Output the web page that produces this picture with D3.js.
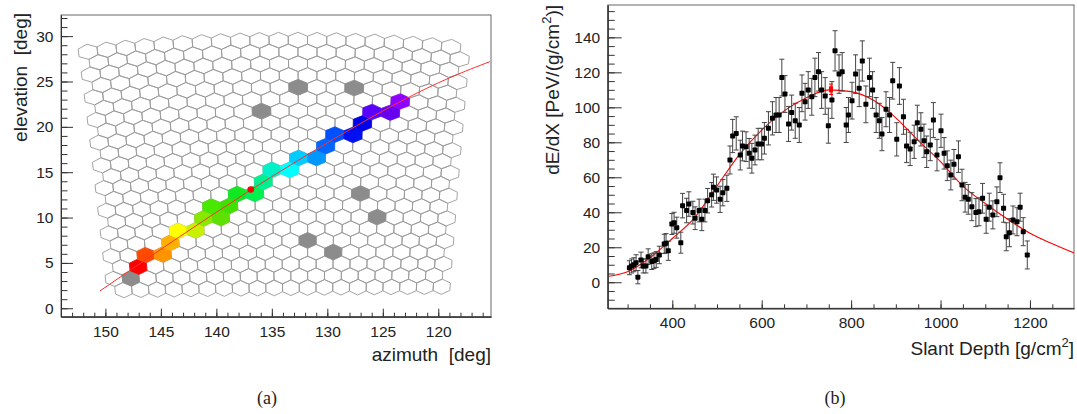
<!DOCTYPE html>
<html><head><meta charset="utf-8">
<script src="https://cdn.jsdelivr.net/npm/d3@7"></script>
<style>
body{margin:0;background:#fff}
svg{display:block}
text{font-family:"Liberation Sans",Arial,Helvetica,sans-serif;fill:#222}
</style>
</head><body>
<svg id="c" width="1077" height="414"></svg>
<script>
// ---------------- DATA: panel (a) camera event ----------------
const azTicks = [150,145,140,135,130,125,120];
const elTicks = [0,5,10,15,20,25,30];
// triggered pixels: row, column, colour (time order)
const hitRow   = [2,3,3,4,5,5,6,6,7,7,8,8,9,10,10,11,11,12,13,13,14,15,15,16];
const hitCol   = [1,2,3,3,4,5,5,6,6,7,7,8,9,9,10,11,12,12,13,14,14,15,16,16];
const hitColor = ["#ff0000","#ff4a00","#ff9400","#ffb000","#ffff00","#c8f000","#88e800","#5ee000",
                  "#48e800","#40e000","#10e820","#00f050","#00f090","#00f0c8","#00ffff","#00ccff",
                  "#0098ff","#0066ff","#0050ff","#0010f0","#0000e8","#5a00ff","#6800f0","#9000ff"];
// noise pixels
const noiseRow = [1,15,17,17,8,6,4,3];
const noiseCol = [1,9,11,14,14,15,11,13];
// fitted shower-detector plane track
const trackAz = [150.5,136.9,123.6,115.35];
const trackEl = [1.9,13.04,22.67,27.19];
const coreAz = [136.9];
const coreEl = [13.1];

// ---------------- DATA: panel (b) longitudinal profile ----------------
const depthTicks = [400,600,800,1000,1200];
const dedxTicks = [0,20,40,60,80,100,120,140];
const depth = [304,309,314,319,323,330,335,341,346,354,
  359,364,371,382,386,391,399,404,410,419,
  423,432,437,446,451,460,466,473,479,488,
  492,499,507,513,522,529,535,543,552,557,
  565,572,578,585,592,600,606,615,624,632,
  639,645,652,660,667,675,684,690,697,704,
  712,719,727,734,742,749,757,764,773,780,
  789,794,802,810,818,825,833,841,848,856,
  863,869,878,886,893,902,908,917,924,932,
  941,948,956,963,969,977,984,992,1001,1008,
  1015,1023,1030,1040,1048,1055,1062,1070,1079,1086,
  1094,1102,1109,1117,1126,1133,1141,1147,1154,1162,
  1171,1178,1185,1194];
const dedx = [8.3,9.3,10,11.2,2.9,12.7,9.3,9.3,14.6,11.8,
  12.3,13,15.6,21.9,22.3,18,33.3,34,31.2,22.6,
  43.8,41,44.7,39.8,36.6,41,36,41,46.6,50,
  54.3,52.7,47.4,51.2,53.7,69.9,83.6,85.1,72.7,77.9,
  77.5,73.7,70.9,75.6,79,79,82.3,88,93.7,95.6,
  95.6,117,107.6,90.5,97,92.3,89.9,108,103.2,109.9,
  106,117.1,120.3,109.9,106.5,89.5,104.2,132.3,119,120.3,
  89.9,95.6,103.8,119,110.9,126.5,101.7,117.1,109.9,95.6,
  92.3,84.7,98.9,95.6,115.2,81.7,112.2,94.6,77.9,76.2,
  80.3,91.2,87.4,80.9,74.6,78.5,92.7,72.7,86.6,73.7,
  66.6,61.3,67.4,71.8,55.6,48.6,47.4,43.2,39.8,40.3,
  48,36,42.9,38.5,46,59.8,42.3,26,28.3,35.6,
  34.6,42.9,28.9,15.6];
const dedxErr = [4,4,4,4.5,3.8,4.5,4,4,4.5,4.5,
  4.5,4.5,5,5.5,5.5,5.5,6,6,6,6,
  7,7,7,6.5,6.5,6.5,6.5,6.5,7,7,
  7.5,7.5,7.5,7.5,7.5,8,9.5,9.5,8.5,8.5,
  8.5,8.5,8.5,8.5,9,9,9,9.5,9.5,10,
  10,10.5,10.5,10,10,10,10,10.5,10.5,10.5,
  10.5,11,11,10.5,10.5,10,10.5,11.5,11,11,
  10,10,10.5,11,10.5,11.5,10.5,11,10.5,10,
  10,9.5,10,10,10.5,9.5,10.5,10,9.5,9.5,
  9.5,10,9.5,9.5,9,9,10,9,9.5,9,
  8.5,8.5,8.5,9,9,8.5,8.5,8,8,8,
  8.5,8,8,8,8.5,8.5,8,8,8,8,
  8,8,8,8];
// Gaisser-Hillas fit curve
const fitDepth = [255,300,350,400,450,500,550,600,650,700,750,800,850,900,950,1000,1050,1100,1150,1200,1250,1300];
const fitDedx  = [3.3,6,14,25,37,55,73,87,98,105.5,110,109,104,94,81,69,55,45,36,28,22,16.6];
const xmaxDepth = [755];
const xmaxDedx = [110.3];
const xmaxErr = [3];

// ---------------- camera geometry ----------------
const CAM_ROWS = 22, CAM_COLS = 20;
const PITCH_A = 1.55, PITCH_B = 1.3;
const AZ0 = 134.6, TILT = 15.9, ROLL = 0.8;
const D = Math.PI/180;
function camToAzEl(a, b){
  let x = Math.tan(a*D), y = 1, z = Math.tan(b*D);
  const cp = Math.cos(ROLL*D), sp = Math.sin(ROLL*D);
  const x1 = x*cp - z*sp, z1 = x*sp + z*cp;
  const ct = Math.cos(TILT*D), st = Math.sin(TILT*D);
  const y2 = y*ct - z1*st, z2 = y*st + z1*ct;
  const n = Math.hypot(x1, y2, z2);
  return [AZ0 - Math.atan2(x1, y2)/D, Math.asin(z2/n)/D];
}
function pixCenter(i, j){
  return [((j - (CAM_COLS-1)/2) + (i%2===0 ? 0.25 : -0.25))*PITCH_A, (i - (CAM_ROWS-1)/2)*PITCH_B];
}
const HR = PITCH_B/1.5, HW = PITCH_A/2;
const hexOff = [[0,HR],[HW,HR/2],[HW,-HR/2],[0,-HR],[-HW,-HR/2],[-HW,HR/2]];

// ---------------- drawing ----------------
const svg = d3.select('#c');
svg.append('rect').attr('width',1077).attr('height',414).attr('fill','#fff');
const fmt = d3.format('d');

// ===== panel (a) =====
const ax = d3.scaleLinear().domain([154,115.25]).range([61,491]);
const ay = d3.scaleLinear().domain([-0.93,32.33]).range([316.7,15]);
const ga = svg.append('g');

function hexPath(i,j){
  const [a,b] = pixCenter(i,j);
  const pts = hexOff.map(([da,db]) => { const [az,el] = camToAzEl(a+da, b+db); return [ax(az), ay(el)]; });
  return 'M' + pts.map(p => p[0].toFixed(2)+','+p[1].toFixed(2)).join('L') + 'Z';
}
const fillMap = new Map();
noiseRow.forEach((r,k) => fillMap.set(r+'_'+noiseCol[k], '#8c8c8c'));
hitRow.forEach((r,k) => fillMap.set(r+'_'+hitCol[k], hitColor[k]));
const cells = [];
for (let i=0;i<CAM_ROWS;i++) for (let j=0;j<CAM_COLS;j++) cells.push({i,j,f:fillMap.get(i+'_'+j)});
ga.append('g').selectAll('path').data(cells.filter(c=>!c.f)).join('path')
  .attr('d', c => hexPath(c.i,c.j)).attr('fill','none').attr('stroke','#9a9a9a').attr('stroke-width',0.9);
ga.append('g').selectAll('path').data(cells.filter(c=>c.f)).join('path')
  .attr('d', c => hexPath(c.i,c.j)).attr('fill', c=>c.f).attr('stroke', c=>c.f).attr('stroke-width',0.6);

ga.append('path').datum(trackAz.map((a,k)=>[a,trackEl[k]]))
  .attr('d', d3.line().x(d=>ax(d[0])).y(d=>ay(d[1])).curve(d3.curveNatural))
  .attr('fill','none').attr('stroke','#ff3030').attr('stroke-width',1);
ga.selectAll('circle.core').data(coreAz).join('circle').attr('class','core')
  .attr('cx',(d)=>ax(d)).attr('cy',(d,k)=>ay(coreEl[k])).attr('r',3.3).attr('fill','#ff0000');

// frame
ga.append('rect').attr('x',61).attr('y',15).attr('width',430).attr('height',301.7)
  .attr('fill','none').attr('stroke','#666').attr('stroke-width',1);

function styleAxis(g){ g.attr('color','#333'); g.selectAll('text').attr('font-size',15.5).attr('fill','#222'); g.select('.domain').attr('stroke','#333'); }
const minorAz = d3.range(116,154,1);
ga.append('g').attr('transform','translate(0,316.7)')
  .call(d3.axisBottom(ax).tickValues(minorAz).tickSize(-4).tickSizeOuter(0).tickFormat(''))
  .call(styleAxis);
ga.append('g').attr('transform','translate(0,316.7)')
  .call(d3.axisBottom(ax).tickValues(azTicks).tickSize(-8).tickSizeOuter(0).tickPadding(9).tickFormat(fmt))
  .call(styleAxis);
const minorEl = d3.range(0,33,1);
ga.append('g').attr('transform','translate(61,0)')
  .call(d3.axisLeft(ay).tickValues(minorEl).tickSize(-6.5).tickSizeOuter(0).tickFormat(''))
  .call(styleAxis);
ga.append('g').attr('transform','translate(61,0)')
  .call(d3.axisLeft(ay).tickValues(elTicks).tickSize(-12).tickSizeOuter(0).tickPadding(7.5).tickFormat(fmt))
  .call(styleAxis);

ga.append('text').attr('x',491).attr('y',361).attr('text-anchor','end').attr('font-size',19)
  .attr('xml:space','preserve').text('azimuth  [deg]');
ga.append('text').attr('transform','translate(27,13) rotate(-90)').attr('text-anchor','end').attr('font-size',19)
  .attr('xml:space','preserve').text('elevation  [deg]');

// ===== panel (b) =====
const bx = d3.scaleLinear().domain([255.5,1298.5]).range([607.7,1074]);
const by = d3.scaleLinear().domain([-14.9,158.5]).range([308.3,5]);
const gb = svg.append('g');
gb.append('clipPath').attr('id','clipb').append('rect').attr('x',607.7).attr('y',5).attr('width',466.3).attr('height',303.3);

gb.append('path').datum(fitDepth.map((x,k)=>[x,fitDedx[k]]))
  .attr('clip-path','url(#clipb)')
  .attr('d', d3.line().x(d=>bx(d[0])).y(d=>by(d[1])).curve(d3.curveMonotoneX))
  .attr('fill','none').attr('stroke','#ff0000').attr('stroke-width',1.1);

const pts = depth.map((x,k)=>({x, v:dedx[k], e:dedxErr[k]}));
const eb = gb.append('g').attr('stroke','#444').attr('stroke-width',1);
eb.selectAll('line.v').data(pts).join('line').attr('class','v')
  .attr('x1',d=>bx(d.x)).attr('x2',d=>bx(d.x)).attr('y1',d=>by(d.v-d.e)).attr('y2',d=>by(d.v+d.e));
eb.selectAll('line.t').data(pts).join('line').attr('class','t')
  .attr('x1',d=>bx(d.x)-2.5).attr('x2',d=>bx(d.x)+2.5).attr('y1',d=>by(d.v+d.e)).attr('y2',d=>by(d.v+d.e));
eb.selectAll('line.b').data(pts).join('line').attr('class','b')
  .attr('x1',d=>bx(d.x)-2.5).attr('x2',d=>bx(d.x)+2.5).attr('y1',d=>by(d.v-d.e)).attr('y2',d=>by(d.v-d.e));
gb.append('g').selectAll('rect').data(pts).join('rect')
  .attr('x',d=>bx(d.x)-2.5).attr('y',d=>by(d.v)-2.5).attr('width',5).attr('height',5).attr('rx',0.8).attr('fill','#000');

// Xmax marker
const xm = gb.append('g').attr('stroke','#ff0000').attr('fill','#ff0000');
xmaxDepth.forEach((x,k)=>{
  xm.append('line').attr('x1',bx(x)).attr('x2',bx(x)).attr('y1',by(xmaxDedx[k]-xmaxErr[k])).attr('y2',by(xmaxDedx[k]+xmaxErr[k])).attr('stroke-width',1);
  xm.append('line').attr('x1',bx(x)-2).attr('x2',bx(x)+2).attr('y1',by(xmaxDedx[k]+xmaxErr[k])).attr('y2',by(xmaxDedx[k]+xmaxErr[k]));
  xm.append('line').attr('x1',bx(x)-2).attr('x2',bx(x)+2).attr('y1',by(xmaxDedx[k]-xmaxErr[k])).attr('y2',by(xmaxDedx[k]-xmaxErr[k]));
  xm.append('rect').attr('x',bx(x)-2).attr('y',by(xmaxDedx[k])-3).attr('width',4).attr('height',6).attr('stroke','none');
});

gb.append('rect').attr('x',607.7).attr('y',5).attr('width',466.3).attr('height',303.3)
  .attr('fill','none').attr('stroke','#666').attr('stroke-width',1);
const minorDepth = d3.range(300,1300,50);
gb.append('g').attr('transform','translate(0,308.3)')
  .call(d3.axisBottom(bx).tickValues(minorDepth).tickSize(-4).tickSizeOuter(0).tickFormat(''))
  .call(styleAxis);
gb.append('g').attr('transform','translate(0,308.3)')
  .call(d3.axisBottom(bx).tickValues(depthTicks).tickSize(-8).tickSizeOuter(0).tickPadding(9).tickFormat(fmt))
  .call(styleAxis);
const minorDedx = d3.range(-10,160,5);
gb.append('g').attr('transform','translate(607.7,0)')
  .call(d3.axisLeft(by).tickValues(minorDedx).tickSize(-7).tickSizeOuter(0).tickFormat(''))
  .call(styleAxis);
gb.append('g').attr('transform','translate(607.7,0)')
  .call(d3.axisLeft(by).tickValues(dedxTicks).tickSize(-14).tickSizeOuter(0).tickPadding(7.5).tickFormat(fmt))
  .call(styleAxis);

const xt = gb.append('text').attr('x',1074).attr('y',355).attr('text-anchor','end').attr('font-size',19);
xt.append('tspan').text('Slant Depth [g/cm');
xt.append('tspan').attr('font-size',13).attr('dy',-8).text('2');
xt.append('tspan').attr('dy',8).text(']');
const yt = gb.append('text').attr('transform','translate(559,5) rotate(-90)').attr('text-anchor','end').attr('font-size',19);
yt.append('tspan').text('dE/dX [PeV/(g/cm');
yt.append('tspan').attr('font-size',13).attr('dy',-8).text('2');
yt.append('tspan').attr('dy',8).text(')]');

// captions
svg.append('text').attr('x',267).attr('y',404).attr('text-anchor','middle').attr('font-size',18)
  .style('font-family','"Liberation Serif","DejaVu Serif",serif').text('(a)');
svg.append('text').attr('x',835).attr('y',404).attr('text-anchor','middle').attr('font-size',18)
  .style('font-family','"Liberation Serif","DejaVu Serif",serif').text('(b)');
</script>
</body></html>
